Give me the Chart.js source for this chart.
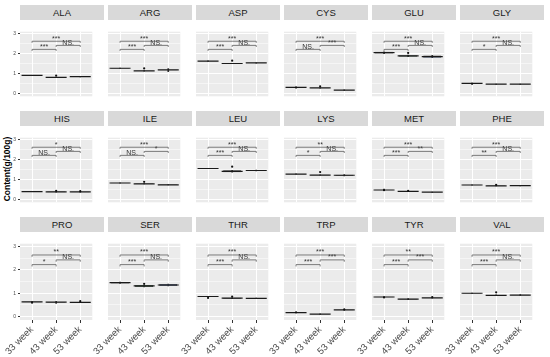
<!DOCTYPE html>
<html>
<head>
<meta charset="utf-8">
<script src="https://cdn.jsdelivr.net/npm/chart.js@4.4.0/dist/chart.umd.min.js"></script>
<style>
  body { margin: 0; background: #fff; width: 550px; height: 357px; overflow: hidden; position: relative; font-family: 'Liberation Sans', Arial, sans-serif; }
  canvas { position: absolute; }
  .strip { position: absolute; width: 84px; height: 15px; line-height: 15px; background: #D9D9D9; color: #1A1A1A; font-size: 9.5px; text-align: center; }
  #ytitle { position: absolute; left: -43px; top: 164px; width: 100px; text-align: center; font-size: 8.5px; font-weight: bold; color: #000; transform: rotate(-90deg); }
</style>
</head>
<body>
<div id="ytitle">Content(g/100g)</div>
<script>
const acids = ['ALA', 'ARG', 'ASP', 'CYS', 'GLU', 'GLY',
  'HIS', 'ILE', 'LEU', 'LYS', 'MET', 'PHE',
  'PRO', 'SER', 'THR', 'TRP', 'TYR', 'VAL'];
const weeks = ['33 week', '43 week', '53 week'];

// medians per acid (33 / 43 / 53 week)
const medians = [
  [0.91, 0.81, 0.85], [1.27, 1.14, 1.19], [1.63, 1.51, 1.54], [0.31, 0.28, 0.17], [2.06, 1.89, 1.86], [0.51, 0.47, 0.47],
  [0.40, 0.38, 0.38], [0.83, 0.79, 0.74], [1.56, 1.42, 1.46], [1.28, 1.23, 1.22], [0.48, 0.41, 0.37], [0.73, 0.69, 0.70],
  [0.63, 0.62, 0.61], [1.45, 1.31, 1.35], [0.86, 0.79, 0.78], [0.17, 0.11, 0.29], [0.84, 0.75, 0.80], [1.00, 0.91, 0.92],
];
const boxLow = [
  [0.90, 0.80, 0.84], [1.26, 1.13, 1.17], [1.62, 1.50, 1.53], [0.30, 0.27, 0.16], [2.01, 1.85, 1.80], [0.50, 0.46, 0.46],
  [0.39, 0.37, 0.37], [0.82, 0.78, 0.73], [1.55, 1.37, 1.44], [1.27, 1.22, 1.19], [0.47, 0.40, 0.36], [0.72, 0.68, 0.69],
  [0.62, 0.61, 0.60], [1.42, 1.27, 1.31], [0.85, 0.77, 0.77], [0.16, 0.10, 0.28], [0.83, 0.73, 0.79], [0.99, 0.90, 0.91],
];
const boxHigh = [
  [0.92, 0.82, 0.86], [1.28, 1.15, 1.20], [1.64, 1.52, 1.55], [0.32, 0.29, 0.18], [2.10, 1.93, 1.91], [0.52, 0.48, 0.48],
  [0.41, 0.40, 0.39], [0.84, 0.80, 0.75], [1.57, 1.47, 1.48], [1.29, 1.24, 1.25], [0.49, 0.42, 0.38], [0.74, 0.70, 0.71],
  [0.64, 0.63, 0.62], [1.48, 1.35, 1.39], [0.87, 0.81, 0.79], [0.18, 0.12, 0.30], [0.85, 0.77, 0.81], [1.01, 0.93, 0.94],
];
const whiskerLow = [
  [0.90, 0.80, 0.84], [1.26, 1.13, 1.10], [1.62, 1.50, 1.53], [0.30, 0.27, 0.16], [2.01, 1.85, 1.80], [0.50, 0.46, 0.46],
  [0.39, 0.37, 0.37], [0.82, 0.78, 0.73], [1.55, 1.37, 1.44], [1.27, 1.22, 1.19], [0.44, 0.40, 0.36], [0.72, 0.68, 0.69],
  [0.62, 0.57, 0.60], [1.42, 1.27, 1.31], [0.85, 0.77, 0.77], [0.16, 0.10, 0.28], [0.83, 0.73, 0.79], [0.99, 0.90, 0.91],
];
const whiskerHigh = [
  [0.92, 0.82, 0.86], [1.28, 1.15, 1.25], [1.64, 1.52, 1.55], [0.32, 0.29, 0.18], [2.10, 1.93, 1.92], [0.52, 0.48, 0.48],
  [0.41, 0.40, 0.39], [0.84, 0.80, 0.75], [1.57, 1.47, 1.48], [1.29, 1.24, 1.25], [0.52, 0.42, 0.38], [0.74, 0.70, 0.71],
  [0.64, 0.66, 0.62], [1.48, 1.35, 1.39], [0.87, 0.81, 0.79], [0.18, 0.12, 0.30], [0.85, 0.77, 0.81], [1.01, 0.93, 0.94],
];
// [acid, week index, value]
const outliers = [
  ['ALA', 1, 0.90], ['ARG', 1, 1.26], ['ASP', 1, 1.65], ['CYS', 0, 0.30], ['CYS', 1, 0.36], ['GLU', 1, 2.04],
  ['GLY', 0, 0.49], ['HIS', 1, 0.44], ['HIS', 2, 0.42], ['ILE', 1, 0.89], ['LEU', 1, 1.65], ['LYS', 1, 1.38],
  ['MET', 0, 0.47], ['MET', 1, 0.43], ['PHE', 1, 0.74], ['PRO', 0, 0.60], ['PRO', 2, 0.66], ['SER', 1, 1.40],
  ['THR', 0, 0.80], ['THR', 1, 0.86], ['TRP', 0, 0.19], ['TRP', 2, 0.31], ['TYR', 0, 0.82], ['TYR', 2, 0.84],
  ['VAL', 1, 1.04],
];
// significance: 33 vs 43, 43 vs 53, 33 vs 53
const sigLabels = [
  ['***', 'NS.', '***'], ['***', 'NS.', '***'], ['***', 'NS.', '***'], ['NS.', '***', '***'], ['***', 'NS.', '***'], ['*', 'NS.', '***'],
  ['NS.', 'NS.', '*'], ['NS.', '*', '***'], ['***', 'NS.', '***'], ['*', 'NS.', '**'], ['***', '**', '***'], ['**', 'NS.', '***'],
  ['*', 'NS.', '**'], ['***', 'NS.', '***'], ['***', 'NS.', '***'], ['***', '***', '***'], ['***', '***', '**'], ['***', 'NS.', '***'],
];
const bracketPairs = [[0, 1], [1, 2], [0, 2]];
const bracketLevels = [2.22, 2.42, 2.63];
const yGrid = [0, 0.5, 1, 1.5, 2, 2.5, 3];
const boxColors = ['#A3404D', '#2F6B3F', '#4B74C2'];

const panelTops = [20, 126, 232];
const AXIS_W = 32;

const panelBg = {
  id: 'panelBg',
  beforeDraw(chart) {
    const { ctx, chartArea: a } = chart;
    ctx.save();
    ctx.fillStyle = '#EBEBEB';
    ctx.fillRect(a.left, a.top, a.right - a.left, a.bottom - a.top);
    ctx.restore();
  },
};

const brackets = {
  id: 'brackets',
  afterDatasetsDraw(chart, args, opts) {
    const { ctx, scales: { x, y } } = chart;
    ctx.save();
    ctx.strokeStyle = '#4D4D4D';
    ctx.lineWidth = 0.7;
    ctx.fillStyle = '#333';
    ctx.font = '7px "Liberation Sans", Arial, sans-serif';
    ctx.textAlign = 'center';
    ctx.textBaseline = 'alphabetic';
    bracketPairs.forEach(([a, b], k) => {
      const x1 = x.getPixelForValue(a);
      const x2 = x.getPixelForValue(b);
      const yy = y.getPixelForValue(bracketLevels[k]);
      const tip = y.getPixelForValue(bracketLevels[k] - 0.08);
      ctx.beginPath();
      ctx.moveTo(x1, tip);
      ctx.lineTo(x1, yy);
      ctx.lineTo(x2, yy);
      ctx.lineTo(x2, tip);
      ctx.stroke();
      ctx.fillText(opts.labels[k], (x1 + x2) / 2, yy - 0.5);
    });
    ctx.restore();
  },
};

acids.forEach((acid, i) => {
  const row = Math.floor(i / 6);
  const col = i % 6;
  const left = 20 + col * 88;
  const top = panelTops[row];
  const bottomRow = row === 2;
  const firstCol = col === 0;

  const strip = document.createElement('div');
  strip.className = 'strip';
  strip.textContent = acid;
  strip.style.left = left + 'px';
  strip.style.top = (top - 15) + 'px';
  document.body.appendChild(strip);

  const canvas = document.createElement('canvas');
  canvas.width = 84 + AXIS_W;
  canvas.height = 88 + (bottomRow ? 35 : 0);
  canvas.style.left = (left - AXIS_W) + 'px';
  canvas.style.top = top + 'px';
  document.body.appendChild(canvas);

  const points = outliers.filter((o) => o[0] === acid).map((o) => ({ x: weeks[o[1]], y: o[2] }));

  new Chart(canvas, {
    type: 'bar',
    data: {
      labels: weeks,
      datasets: [
        {
          type: 'bar',
          data: weeks.map((w, k) => [whiskerLow[i][k], whiskerHigh[i][k]]),
          backgroundColor: '#333',
          barThickness: 1,
          grouped: false,
          order: 4,
        },
        {
          type: 'bar',
          data: weeks.map((w, k) => [boxLow[i][k], boxHigh[i][k]]),
          backgroundColor: boxColors,
          borderColor: '#333',
          borderWidth: 0.6,
          borderSkipped: false,
          barPercentage: 0.75,
          categoryPercentage: 1,
          grouped: false,
          order: 3,
        },
        {
          type: 'line',
          data: medians[i],
          showLine: false,
          pointStyle: 'line',
          pointRadius: 10.5,
          pointBorderWidth: 1.2,
          pointBorderColor: '#1A1A1A',
          order: 2,
        },
        {
          type: 'line',
          data: points,
          showLine: false,
          pointStyle: 'circle',
          pointRadius: 1.1,
          pointBorderWidth: 0,
          pointBackgroundColor: '#111',
          order: 1,
        },
      ],
    },
    options: {
      responsive: false,
      animation: false,
      devicePixelRatio: 1,
      layout: { padding: 0 },
      events: [],
      plugins: {
        legend: { display: false },
        tooltip: { enabled: false },
        brackets: { labels: sigLabels[i] },
      },
      scales: {
        x: {
          type: 'category',
          offset: true,
          grid: {
            offset: false,
            color: '#FFFFFF',
            lineWidth: 1,
            drawTicks: bottomRow,
            tickLength: 3,
            tickColor: '#333',
          },
          border: { display: false },
          ticks: {
            display: bottomRow,
            minRotation: 45,
            maxRotation: 45,
            padding: 1,
            color: '#4D4D4D',
            font: { family: '"Liberation Sans", Arial, sans-serif', size: 9.5 },
          },
          afterFit: (s) => {
            s.height = bottomRow ? 35 : 0;
            s.paddingLeft = 0;
            s.paddingRight = 0;
          },
        },
        y: {
          type: 'linear',
          min: -0.14,
          max: 3.11,
          afterBuildTicks: (s) => {
            s.ticks = yGrid.map((v) => ({ value: v }));
          },
          grid: {
            color: '#FFFFFF',
            lineWidth: (c) => (Number.isInteger(c.tick.value) ? 1 : 0.5),
            drawTicks: firstCol,
            tickLength: 2,
            tickColor: (c) => (Number.isInteger(c.tick.value) ? '#333' : 'rgba(0,0,0,0)'),
          },
          border: { display: false },
          ticks: {
            display: firstCol,
            padding: 2,
            color: '#4D4D4D',
            font: { family: '"Liberation Sans", Arial, sans-serif', size: 5 },
            callback: (v) => (Number.isInteger(v) ? v : ''),
          },
          afterFit: (s) => {
            s.width = AXIS_W;
            s.paddingTop = 0;
            s.paddingBottom = 0;
          },
        },
      },
    },
    plugins: [panelBg, brackets],
  });
});
</script>
</body>
</html>
